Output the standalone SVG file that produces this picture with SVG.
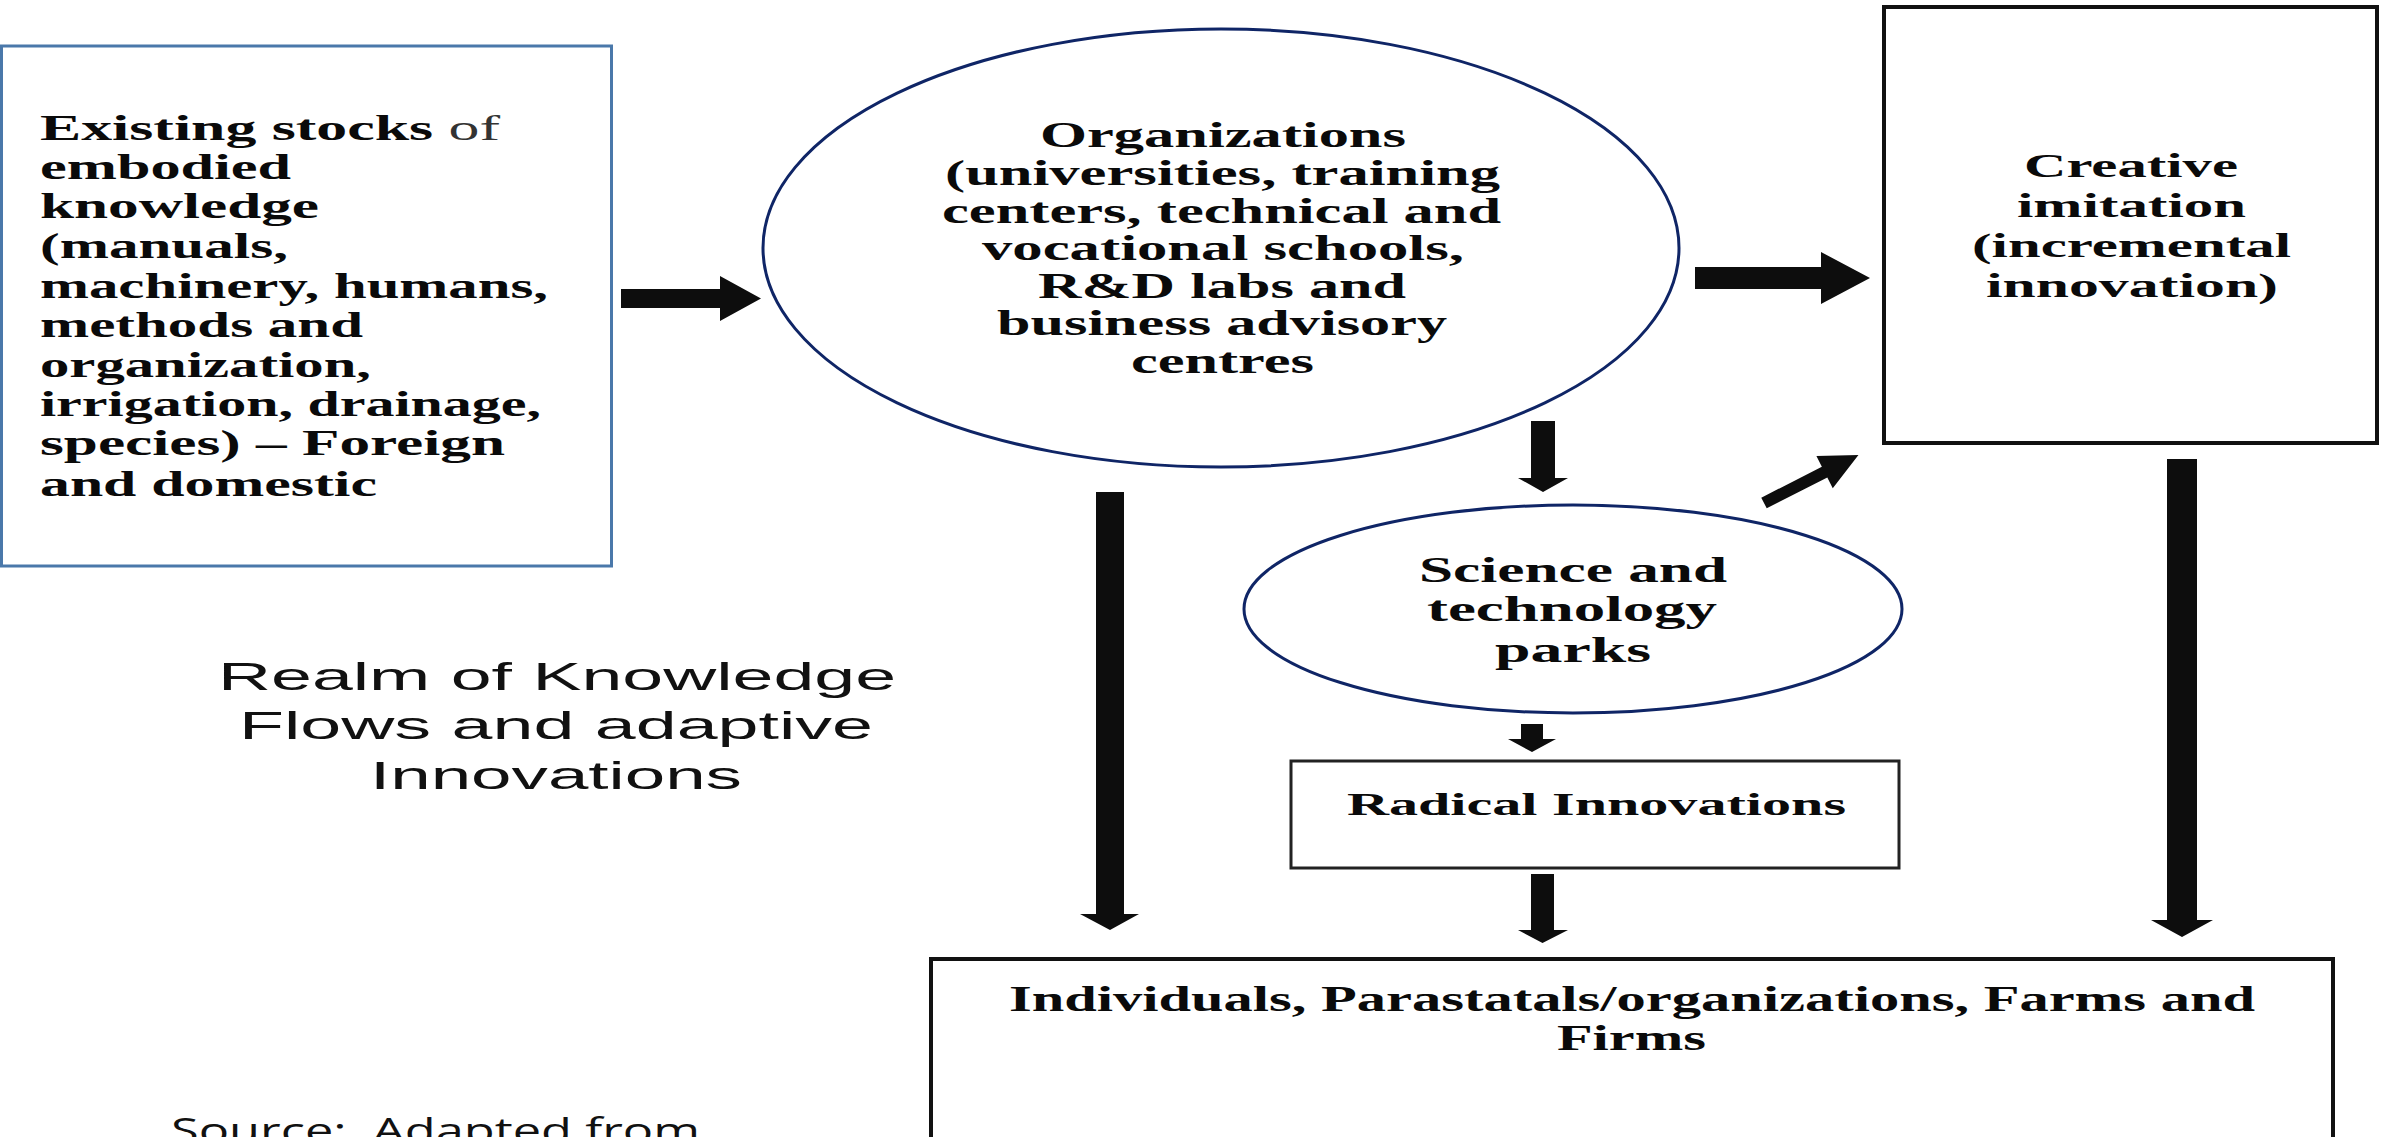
<svg xmlns="http://www.w3.org/2000/svg" width="2386" height="1137" viewBox="0 0 2386 1137">
<style>
  .bg { fill: #ffffff; }
  .ser { font-family: "Liberation Serif", "Times New Roman", serif; font-weight: bold; fill: #0a0a0a; }
  .reg { font-weight: normal; fill: #333333; }
  .sans { font-family: "Liberation Sans", Arial, sans-serif; fill: #111111; }
  .src { font-family: "Open Sans", "Liberation Sans", sans-serif; fill: #111111; }
  .blueBox { fill: #ffffff; stroke: #4a78aa; stroke-width: 3; }
  .navyEll { fill: #ffffff; stroke: #0f2566; stroke-width: 3; }
  .blkBox { fill: #ffffff; stroke: #111111; stroke-width: 4; }
  .arrow { fill: #0d0d0d; stroke: none; }
</style>
<rect class="bg" x="0" y="0" width="2386" height="1137"/>

<g id="existing-stocks">
  <rect class="blueBox" x="1.5" y="46" width="610" height="520"/>
  <text class="ser" font-size="35" x="40" y="140" textLength="460" lengthAdjust="spacingAndGlyphs">Existing stocks<tspan class="reg"> of</tspan></text>
  <text class="ser" font-size="35" x="40" y="179" textLength="251" lengthAdjust="spacingAndGlyphs">embodied</text>
  <text class="ser" font-size="35" x="40" y="218" textLength="279" lengthAdjust="spacingAndGlyphs">knowledge</text>
  <text class="ser" font-size="35" x="40" y="258" textLength="248" lengthAdjust="spacingAndGlyphs">(manuals,</text>
  <text class="ser" font-size="35" x="40" y="298" textLength="508" lengthAdjust="spacingAndGlyphs">machinery, humans,</text>
  <text class="ser" font-size="35" x="40" y="337" textLength="323" lengthAdjust="spacingAndGlyphs">methods and</text>
  <text class="ser" font-size="35" x="40" y="377" textLength="331" lengthAdjust="spacingAndGlyphs">organization,</text>
  <text class="ser" font-size="35" x="40" y="416" textLength="501" lengthAdjust="spacingAndGlyphs">irrigation, drainage,</text>
  <text class="ser" font-size="35" x="40" y="455" textLength="465" lengthAdjust="spacingAndGlyphs">species) – Foreign</text>
  <text class="ser" font-size="35" x="40" y="496" textLength="337" lengthAdjust="spacingAndGlyphs">and domestic</text>
</g>

<g id="organizations">
  <ellipse class="navyEll" cx="1221" cy="248" rx="458" ry="219"/>
  <text class="ser" font-size="35" x="1040" y="147" textLength="366" lengthAdjust="spacingAndGlyphs">Organizations</text>
  <text class="ser" font-size="35" x="945" y="185" textLength="555" lengthAdjust="spacingAndGlyphs">(universities, training</text>
  <text class="ser" font-size="35" x="942" y="223" textLength="559" lengthAdjust="spacingAndGlyphs">centers, technical and</text>
  <text class="ser" font-size="35" x="982" y="260" textLength="482" lengthAdjust="spacingAndGlyphs">vocational schools,</text>
  <text class="ser" font-size="35" x="1038" y="298" textLength="368" lengthAdjust="spacingAndGlyphs">R&amp;D labs and</text>
  <text class="ser" font-size="35" x="997" y="335" textLength="450" lengthAdjust="spacingAndGlyphs">business advisory</text>
  <text class="ser" font-size="35" x="1131" y="373" textLength="183" lengthAdjust="spacingAndGlyphs">centres</text>
</g>

<g id="creative-imitation">
  <rect class="blkBox" x="1884" y="7" width="493" height="436"/>
  <text class="ser" font-size="34" x="2024" y="177" textLength="214" lengthAdjust="spacingAndGlyphs">Creative</text>
  <text class="ser" font-size="34" x="2017" y="217" textLength="229" lengthAdjust="spacingAndGlyphs">imitation</text>
  <text class="ser" font-size="34" x="1972" y="257" textLength="319" lengthAdjust="spacingAndGlyphs">(incremental</text>
  <text class="ser" font-size="34" x="1986" y="297" textLength="292" lengthAdjust="spacingAndGlyphs">innovation)</text>
</g>

<g id="science-parks">
  <ellipse class="navyEll" cx="1573" cy="609" rx="329" ry="104"/>
  <text class="ser" font-size="36" x="1419" y="582" textLength="308" lengthAdjust="spacingAndGlyphs">Science and</text>
  <text class="ser" font-size="36" x="1427" y="621" textLength="290" lengthAdjust="spacingAndGlyphs">technology</text>
  <text class="ser" font-size="36" x="1495" y="662" textLength="156" lengthAdjust="spacingAndGlyphs">parks</text>
</g>

<g id="radical-innovations">
  <rect x="1291" y="761" width="608" height="107" fill="#ffffff" stroke="#222222" stroke-width="3"/>
  <text class="ser" font-size="32" x="1347" y="815" textLength="499" lengthAdjust="spacingAndGlyphs">Radical Innovations</text>
</g>

<g id="individuals">
  <rect class="blkBox" x="931" y="959" width="1402" height="200"/>
  <text class="ser" font-size="35" x="1009" y="1011" textLength="1246" lengthAdjust="spacingAndGlyphs">Individuals, Parastatals/organizations, Farms and</text>
  <text class="ser" font-size="35" x="1557" y="1050" textLength="149" lengthAdjust="spacingAndGlyphs">Firms</text>
</g>

<g id="realm-label">
  <text class="sans" font-size="39" x="218" y="690" textLength="678" lengthAdjust="spacingAndGlyphs">Realm of Knowledge</text>
  <text class="sans" font-size="39" x="239" y="739" textLength="634" lengthAdjust="spacingAndGlyphs">Flows and adaptive</text>
  <text class="sans" font-size="39" x="370" y="789" textLength="372" lengthAdjust="spacingAndGlyphs">Innovations</text>
</g>

<g id="source-note">
  <text class="src" font-size="34" x="171" y="1143" textLength="529" lengthAdjust="spacingAndGlyphs" xml:space="preserve">Source:  Adapted from</text>
</g>

<g id="connectors">
  <polygon class="arrow" points="621,289 720,289 720,276 761,298.5 720,321 720,308 621,308"/>
  <polygon class="arrow" points="1695,267 1821,267 1821,252 1870,278 1821,304 1821,289 1695,289"/>
  <polygon class="arrow" points="0,-6 68,-6 68,-18 106,0 68,18 68,6 0,6" transform="translate(1764,503) rotate(-27)"/>
  <polygon class="arrow" points="1531,421 1555,421 1555,478 1568,478 1543,492 1518,478 1531,478"/>
  <polygon class="arrow" points="1521,724 1543,724 1543,739 1556,739 1532,752 1508,739 1521,739"/>
  <polygon class="arrow" points="1531,874 1554,874 1554,930 1568,930 1542.5,943 1518,930 1531,930"/>
  <polygon class="arrow" points="1096,492 1124,492 1124,914 1139,914 1110,930 1080,914 1096,914"/>
  <polygon class="arrow" points="2167,459 2197,459 2197,920 2213,920 2182,937 2151,920 2167,920"/>
</g>
</svg>
